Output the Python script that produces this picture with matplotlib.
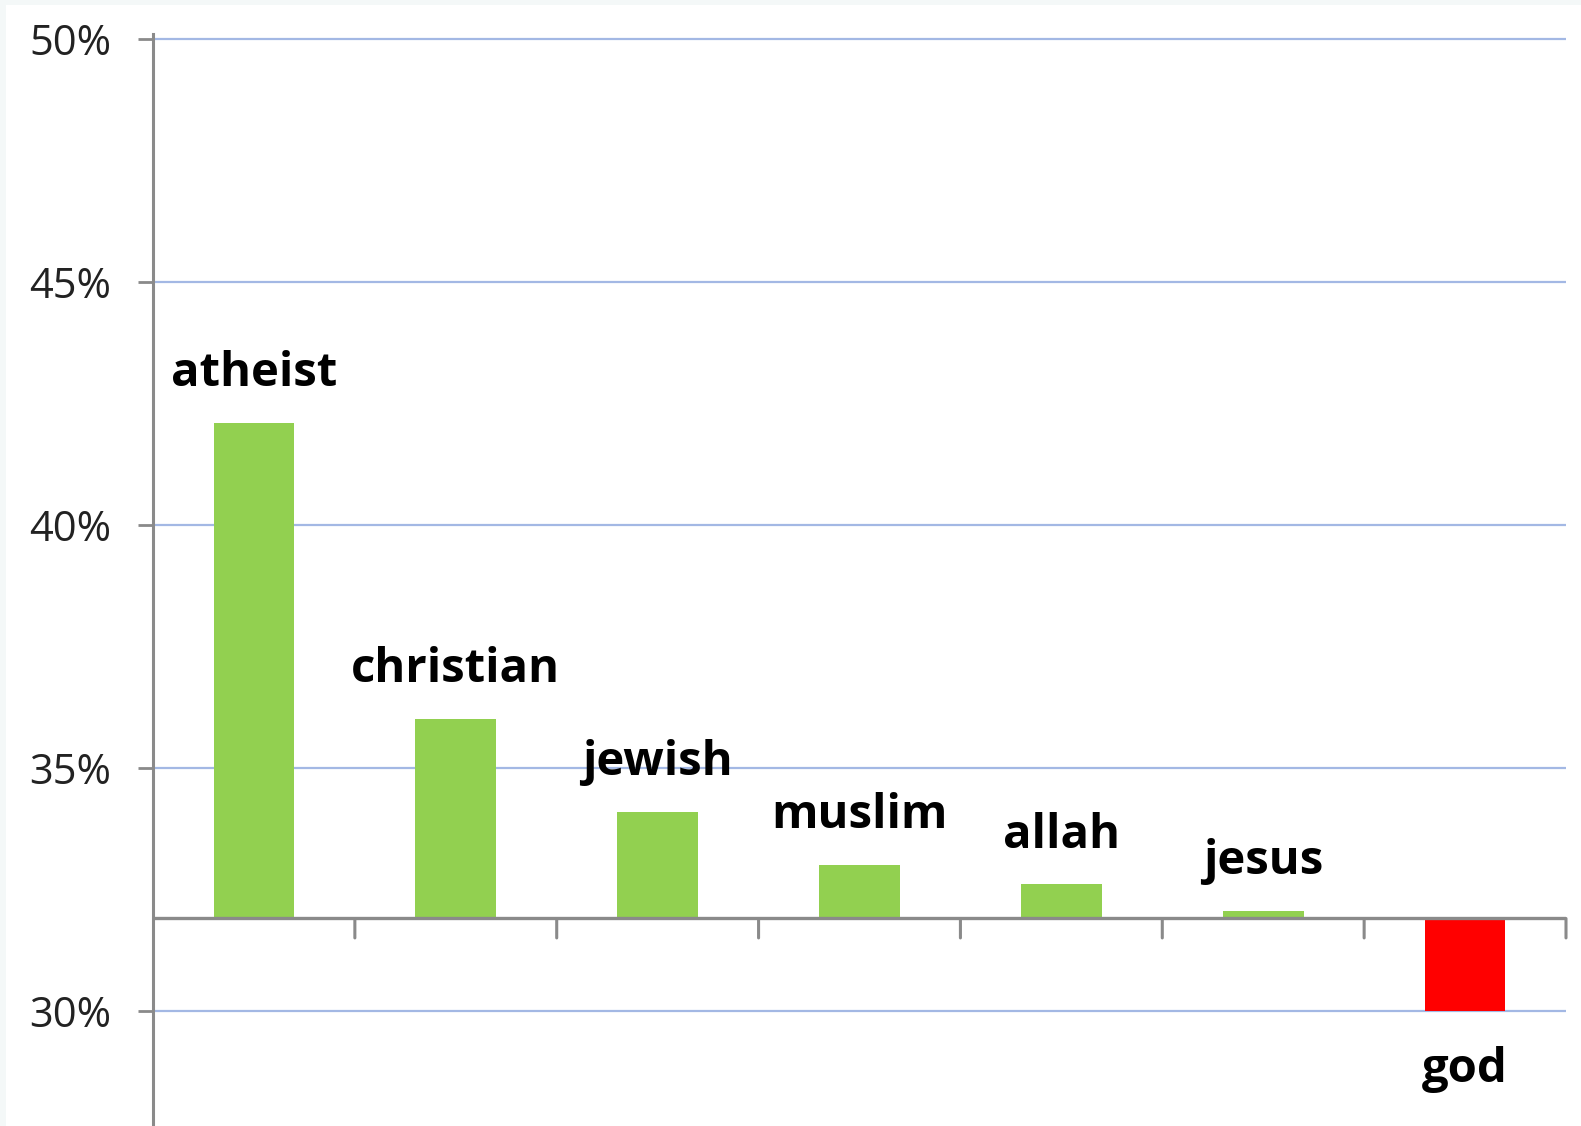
import matplotlib.pyplot as plt
from matplotlib.patches import Rectangle
from matplotlib.ticker import FuncFormatter

categories = ["atheist", "christian", "jewish", "muslim", "allah", "jesus", "god"]
values = [42.1, 36.0, 34.1, 33.0, 32.6, 32.05, 30.0]
baseline = 31.9
yticks = [30, 35, 40, 45, 50]

W, H = 1581, 1126
fig = plt.figure(figsize=(W / 100, H / 100), dpi=100)
fig.patch.set_facecolor("white")

# light frame strip on top and left edges
fig.patches.append(Rectangle((0, 1 - 5 / H), 1, 5 / H, transform=fig.transFigure,
                             facecolor="#F4F8F8", edgecolor="none", zorder=0))
fig.patches.append(Rectangle((0, 0), 6 / W, 1, transform=fig.transFigure,
                             facecolor="#F4F8F8", edgecolor="none", zorder=0))

ax = fig.add_axes([153 / W, 0, (1566 - 153) / W, (H - 34) / H])
ax.set_facecolor("white")

x = list(range(len(categories)))
heights = [v - baseline for v in values]
colors = ["#92D050" if h > 0 else "#FF0000" for h in heights]
ax.bar(x, heights, bottom=baseline, width=0.4, color=colors, zorder=3)

ax.set_xlim(-0.5, len(categories) - 0.5)
ax.set_ylim(27.63, 50.1)

# gridlines
ax.set_yticks(yticks)
ax.yaxis.set_major_formatter(FuncFormatter(lambda v, p: f"{v:.0f}%"))
ax.grid(axis="y", color="#A3B8E4", linewidth=1.6, zorder=1)
ax.grid(axis="x", visible=False)

# spines
for s in ["top", "right", "bottom"]:
    ax.spines[s].set_visible(False)
ax.spines["left"].set_color("#8A8A8A")
ax.spines["left"].set_linewidth(2.2)
ax.spines["left"].set_zorder(4)

# category axis at the baseline
ax.axhline(baseline, color="#8A8A8A", linewidth=2.4, zorder=4)
ax.set_xticks([])
for b in [i + 0.5 for i in x]:
    ax.annotate("", xy=(b, baseline), xytext=(0, -14), textcoords="offset points",
                arrowprops=dict(arrowstyle="-", color="#8A8A8A", lw=2.2,
                                shrinkA=0, shrinkB=0))

ax.tick_params(axis="y", direction="out", length=11, width=2, color="#8A8A8A",
               labelsize=30, labelcolor="#222222", pad=19)
for lab in ax.get_yticklabels():
    lab.set_fontfamily("Open Sans")

# bar labels
for i, (cat, v) in enumerate(zip(categories, values)):
    if v >= baseline:
        ax.annotate(cat, xy=(i, v), xytext=(0, 26.5), textcoords="offset points",
                    ha="center", va="baseline", fontsize=34, fontweight="bold",
                    family="Open Sans", color="black")
    else:
        ax.annotate(cat, xy=(i, v), xytext=(0, -25), textcoords="offset points",
                    ha="center", va="top", fontsize=34, fontweight="bold",
                    family="Open Sans", color="black")

fig.savefig("out.png", dpi=100)
